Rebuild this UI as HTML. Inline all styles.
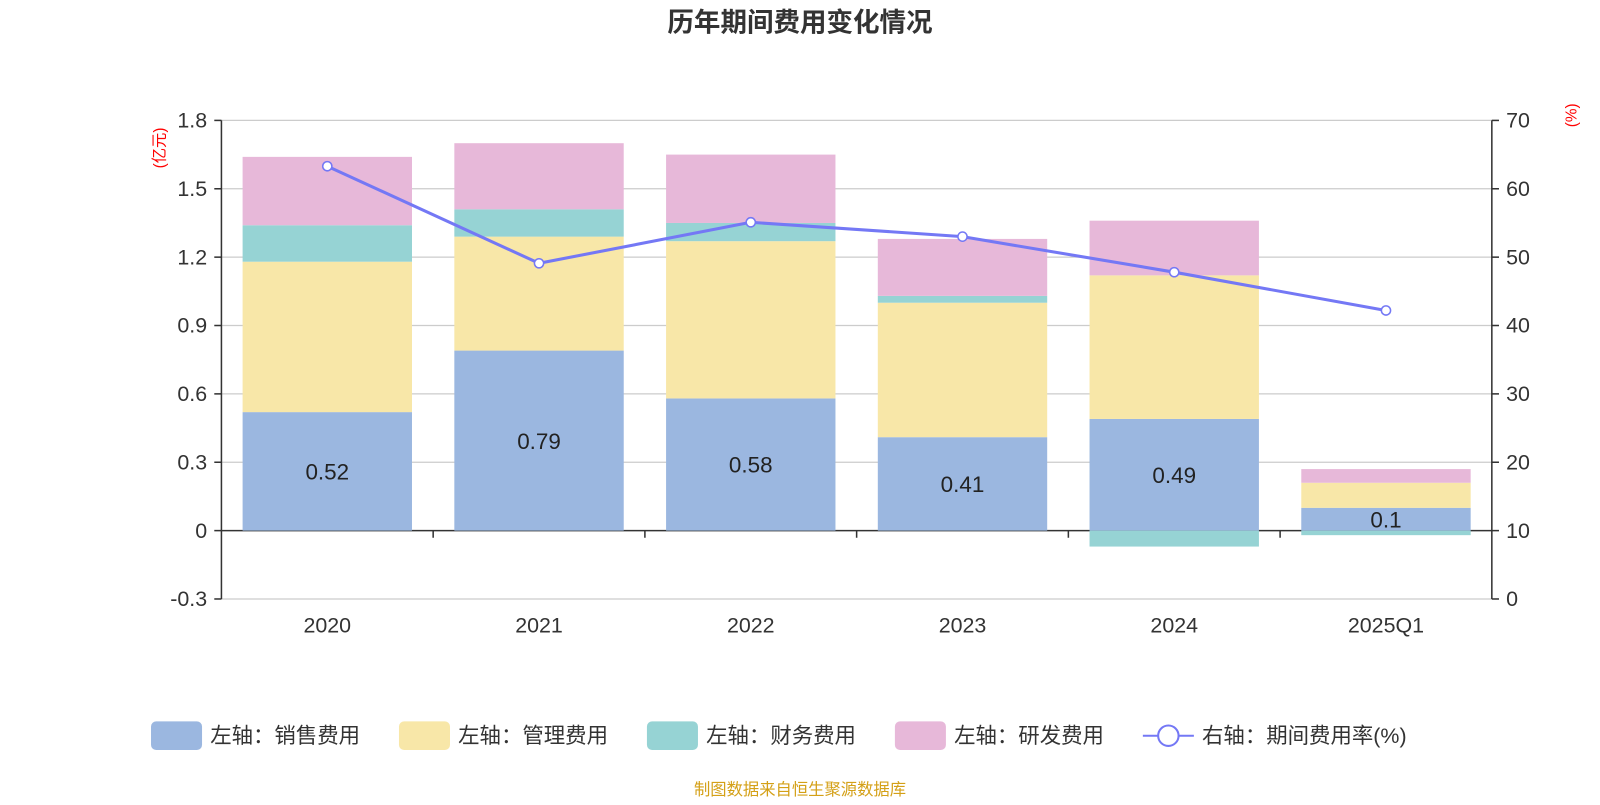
<!DOCTYPE html>
<html><head><meta charset="utf-8">
<style>
body{margin:0;background:#fff;}
svg text{font-family:"Liberation Sans","Noto Sans CJK SC",sans-serif;}
</style></head>
<body>
<svg id="chart" width="1600" height="800" viewBox="0 0 1568 784" xmlns="http://www.w3.org/2000/svg">
<text x="784" y="31" text-anchor="middle" font-size="26" font-weight="bold" fill="#333">历年期间费用变化情况</text>
<text transform="translate(161,145) rotate(-90)" text-anchor="middle" font-size="15" fill="#f00">(亿元)</text>
<text transform="translate(1545,113) rotate(-90)" text-anchor="middle" font-size="15" fill="#f00">(%)</text>
<g id="grid"></g>
<g id="bars"></g>
<g id="axes"></g>
<g id="line"></g>
<g id="legend"></g>
<text x="784" y="779" text-anchor="middle" font-size="16" fill="#d4a017">制图数据来自恒生聚源数据库</text>
</svg>
<script>
const categories=["2020","2021","2022","2023","2024","2025Q1"];
const sales=[0.52,0.79,0.58,0.41,0.49,0.10];
const admin=[0.66,0.50,0.69,0.59,0.63,0.11];
const finance=[0.16,0.12,0.08,0.03,-0.07,-0.02];
const rnd=[0.30,0.29,0.30,0.25,0.24,0.06];
const rate=[63.3,49.1,55.1,53.0,47.8,42.2];
const leftTicks=[-0.3,0,0.3,0.6,0.9,1.2,1.5,1.8];
const rightTicks=[0,10,20,30,40,50,60,70];

const NS="http://www.w3.org/2000/svg";
const X0=217,X1=1462,n=categories.length,band=(X1-X0)/n,bw=166;
const yL=v=>520-v*(402/1.8);
const yR=v=>587-v*(469/70);
const xC=i=>X0+band*(i+0.5);
function mk(tag,attrs,parent,text){const e=document.createElementNS(NS,tag);for(const k in attrs)e.setAttribute(k,attrs[k]);if(text!==undefined)e.textContent=text;document.getElementById(parent).appendChild(e);return e;}

leftTicks.forEach(t=>{
  const g=mk('line',{x1:X0,x2:X1,y1:yL(t),y2:yL(t),stroke:t===0?'#333':'#ccc','stroke-width':t===0?1.5:1.2},'grid');
  
  
  const l=mk('text',{x:X0-14,y:yL(t)+7,'text-anchor':'end','font-size':21,fill:'#333'},'axes',String(t));
  
  
  mk('line',{x1:X0-7,x2:X0,y1:yL(t),y2:yL(t),stroke:'#333','stroke-width':1.5},'axes');
});
rightTicks.forEach(t=>{
  const l=mk('text',{x:X1+14,y:yR(t)+7,'font-size':21,fill:'#333'},'axes',String(t));
  
  
  mk('line',{x1:X1,x2:X1+7,y1:yR(t),y2:yR(t),stroke:'#333','stroke-width':1.5},'axes');
});
mk('line',{x1:X0,x2:X0,y1:yL(1.8),y2:yL(-0.3),stroke:'#333','stroke-width':1.5},'axes');
mk('line',{x1:X1,x2:X1,y1:yR(70),y2:yR(0),stroke:'#333','stroke-width':1.5},'axes');
for(let i=1;i<n;i++)mk('line',{x1:X0+band*i,x2:X0+band*i,y1:520,y2:527,stroke:'#333','stroke-width':1.5},'axes');

const series=[[sales,'#9bb7e0','sales'],[admin,'#f8e7a8','admin'],[finance,'#96d3d4','finance'],[rnd,'#e7b8d9','rnd']];
categories.forEach((c,i)=>{
  let pos=0,neg=0;
  series.forEach(([arr,col,nm])=>{
    const v=arr[i];let a,b;
    if(v>=0){a=pos;b=pos+v;pos=b;}else{a=neg;b=neg+v;neg=b;}
    const r=mk('rect',{x:xC(i)-bw/2,width:bw,y:Math.min(yL(a),yL(b)),height:Math.abs(yL(a)-yL(b)),fill:col},'bars');
    
    
  });
  const t=mk('text',{x:xC(i),y:yL(sales[i]/2)+8,'text-anchor':'middle','font-size':22,fill:'#222'},'bars',String(sales[i]));
  
  
  const xl=mk('text',{x:xC(i),y:620,'text-anchor':'middle','font-size':21,fill:'#333'},'axes',c);
  
  
});
const pts=rate.map((v,i)=>xC(i)+','+yR(v)).join(' ');
const pl=mk('polyline',{points:pts,fill:'none',stroke:'#7478f5','stroke-width':3},'line');


rate.forEach((v,i)=>{
  const p=mk('circle',{cx:xC(i),cy:yR(v),r:4.5,fill:'#fff',stroke:'#7478f5','stroke-width':1.5},'line');
  
  
});

const leg=[['左轴：销售费用','#9bb7e0',148],['左轴：管理费用','#f8e7a8',391],['左轴：财务费用','#96d3d4',634],['左轴：研发费用','#e7b8d9',877]];
leg.forEach(([t,c,x])=>{
  const r=mk('rect',{x:x,y:707,width:50,height:28,rx:5,fill:c},'legend');
  
  
  const tx=mk('text',{x:x+58,y:728,'font-size':21,fill:'#333'},'legend',t);
  
  
});
mk('line',{x1:1120,x2:1170,y1:721,y2:721,stroke:'#7478f5','stroke-width':2},'legend');
const lc=mk('circle',{cx:1145,cy:721,r:10,fill:'#fff',stroke:'#7478f5','stroke-width':2},'legend');


const lt=mk('text',{x:1178,y:728,'font-size':21,fill:'#333'},'legend','右轴：期间费用率(%)');


</script>
</body></html>
